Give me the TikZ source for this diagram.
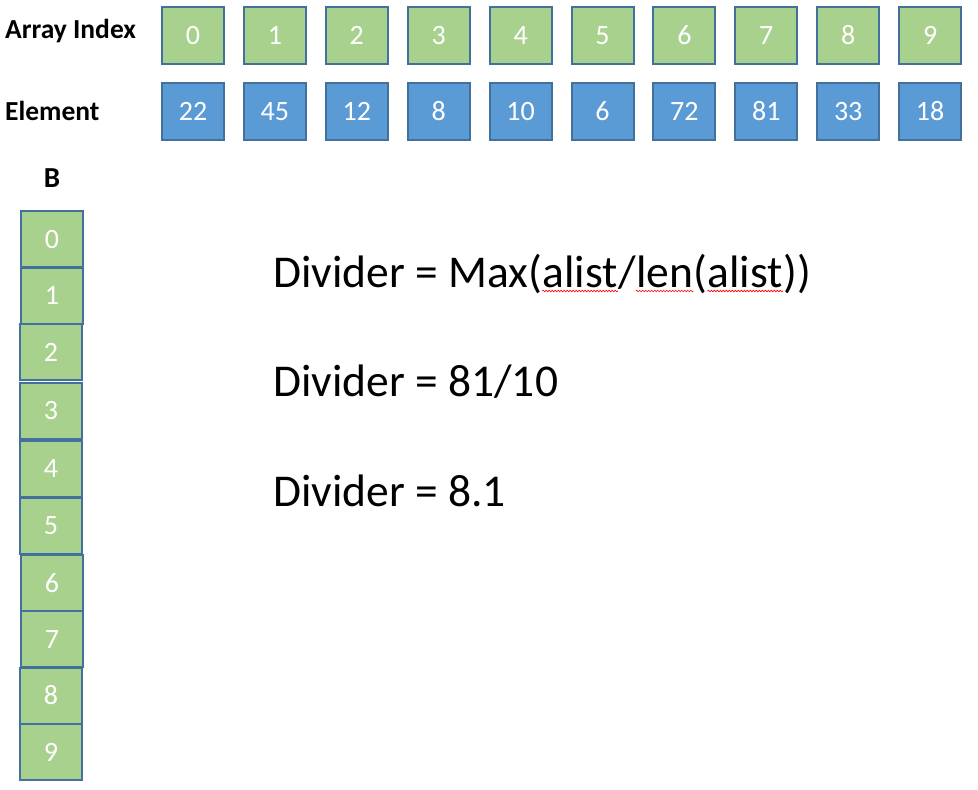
\documentclass[tikz,border=0pt]{standalone}
\usepackage{fontspec}
\setmainfont{Carlito}
\usetikzlibrary{decorations.pathmorphing}
\definecolor{gfill}{HTML}{A9D18E}
\definecolor{bfill}{HTML}{5B9BD5}
\definecolor{bdraw}{HTML}{41719C}
\begin{document}
\begin{tikzpicture}[x=1pt,y=-1pt,
  cell/.style={draw=bdraw,line width=2pt,minimum width=62pt,minimum height=57pt,inner sep=0pt,
     text=white,font=\fontsize{28}{30}\selectfont,text height=18pt,text depth=0pt},
  idx/.style={cell,fill=gfill},
  elem/.style={cell,fill=bfill},
  bcell/.style={cell,fill=gfill,minimum height=56pt},
  lbl/.style={anchor=base west,inner sep=0pt,font=\fontsize{27.5}{30}\selectfont\bfseries},
  big/.style={anchor=base west,inner sep=0pt,font=\fontsize{45.5}{50}\selectfont},
  squig/.style={red,line width=0.6pt,decorate,decoration={snake,amplitude=0.8pt,segment length=3pt}}]
\useasboundingbox (0,0) rectangle (978,790);
\node[lbl] (la) at (5,38) {Array Index};
\node[lbl] (le) at (5,120) {Element};
\node[lbl,anchor=base,font=\fontsize{29}{30}\selectfont\bfseries] (lb) at (52,187) {B};
\foreach \i/\v in {0/22,1/45,2/12,3/8,4/10,5/6,6/72,7/81,8/33,9/18}{
  \node[idx] (i\i) at ({193+81.9*\i},35.5) {\i};
  \node[elem] (e\i) at ({193+81.9*\i},111) {\v};
}
\foreach \i/\x/\y in {0/52/239,1/52/295.5,2/51/352,3/51/410.5,4/51/468.5,5/51/525.5,6/52/583,7/52/639,8/51/695.5,9/51/752}{
  \node[bcell] (b\i) at (\x,\y) {\i};
}
\node[big] (t1) at (273,287) {Divider = Max(};
\node[big] (w1) at (t1.base east) {alist};
\node[big] (s1) at (w1.base east) {/};
\node[big] (w2) at (s1.base east) {len};
\node[big] (p1) at (w2.base east) {(};
\node[big] (w3) at (p1.base east) {alist};
\node[big] (p2) at (w3.base east) {))};
\node[big] (t2) at (273,396.5) {Divider = 81/10};
\node[big] (t3) at (273,506) {Divider = 8.1};
\foreach \w in {w1,w2,w3}{
  \draw[squig] ([yshift=-4pt]\w.base west) -- ([yshift=-4pt]\w.base east);
}
\end{tikzpicture}
\end{document}
